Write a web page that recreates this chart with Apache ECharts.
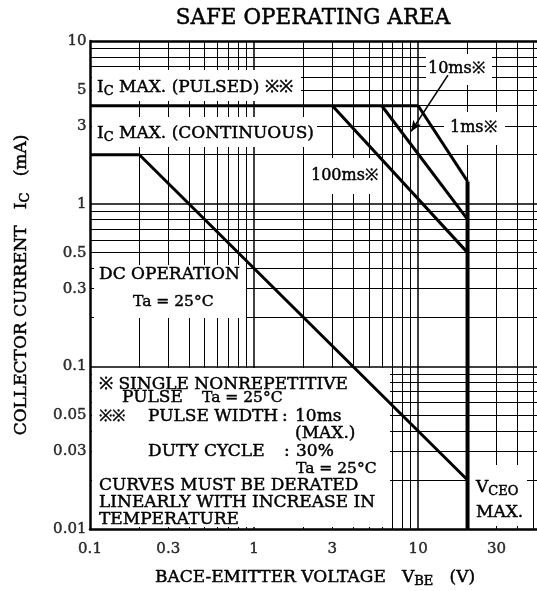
<!DOCTYPE html>
<html><head><meta charset="utf-8">
<script src="https://cdn.jsdelivr.net/npm/echarts@6/dist/echarts.min.js"></script>
<style>html,body{margin:0;padding:0;background:#fff}#c{width:537px;height:591px}</style>
</head><body><div id="c"></div>
<script>
// ---- data ----
const xTickLabels = [0.1, 0.3, 1, 3, 10, 30];
const yTickLabels = [0.01, 0.03, 0.05, 0.1, 0.3, 0.5, 1, 3, 5, 10];
const xGridValues = [0.2,0.3,0.4,0.5,0.6,0.7,0.8,0.9,1,2,3,4,5,6,7,8,9,10,20,30,40,50];
const yGridValues = [0.02,0.03,0.04,0.05,0.06,0.07,0.08,0.09,0.1,0.2,0.3,0.4,0.5,0.6,0.7,0.8,0.9,1,2,3,4,5,6,7,8,9];
const dcOperation = [[0.1, 2], [0.2, 2], [20, 0.02]];
const icMaxPulsed = [[0.1, 4], [10, 4]];
const pulse100ms = [[3, 4], [20, 0.5]];
const pulse10ms = [[6, 4], [20, 0.8]];
const pulse1ms = [[10, 4], [20, 1.37]];
const vceoMax = [[20, 1.37], [20, 0.01]];
const arrow10ms = [[15.2, 6.17], [9.06, 2.78]];

// ---- rendering ----
const F = '"DejaVu Serif", "Liberation Serif", serif';
const SW = 0.45; // stroke to thicken text like the printed original
const chart = echarts.init(document.getElementById('c'), null, {renderer: 'canvas'});

function T(x, y, text, size, extra) {
  return {type: 'text', x: x, y: y, z: 7, silent: true,
    style: Object.assign({text: text, fontFamily: F, fontSize: size || 16, fill: '#000',
      stroke: '#000', lineWidth: SW,
      align: 'left', verticalAlign: 'middle', textAlign: 'left', textVerticalAlign: 'middle'}, extra || {})};
}
function R(x, y, w, h) {
  return {type: 'rect', z: 3, silent: true, shape: {x: x, y: y, width: w, height: h}, style: {fill: '#fff'}};
}
function subRich(main, sub) {
  return {
    m: {fontFamily: F, fontSize: main, lineHeight: 21, fill: '#000', stroke: '#000', lineWidth: SW},
    s: {fontFamily: F, fontSize: sub, lineHeight: 21, verticalAlign: 'bottom', fill: '#000', stroke: '#000', lineWidth: SW}
  };
}

function curve(data, w) {
  return {type: 'line', data: data, symbol: 'none', z: 5, clip: false, silent: true,
    lineStyle: {color: '#000', width: w || 3}, animation: false};
}

const gridLines = [];
xGridValues.forEach(v => gridLines.push({xAxis: v, lineStyle: {width: (v === 1 || v === 10) ? 1.5 : 1}}));
yGridValues.forEach(v => gridLines.push({yAxis: v, lineStyle: {width: (v === 1 || v === 0.1) ? 1.5 : 1}}));
gridLines.push({yAxis: 10, lineStyle: {width: 2.5}});

const tickLabelStyle = {color: '#000', fontFamily: F, fontSize: 15, textBorderColor: '#000', textBorderWidth: SW};

const option = {
  animation: false,
  backgroundColor: '#fff',
  grid: {left: 90, right: 0, top: 41, bottom: 62, containLabel: false},
  xAxis: {type: 'log', logBase: 10, min: 0.1, max: 53, z: 10,
    axisLine: {show: true, onZero: false, lineStyle: {color: '#000', width: 2.5}},
    axisTick: {show: false}, axisLabel: {show: false}, splitLine: {show: false}},
  yAxis: {type: 'log', logBase: 10, min: 0.01, max: 10, z: 10,
    axisLine: {show: true, onZero: false, lineStyle: {color: '#000', width: 2.5}},
    axisTick: {show: false}, axisLabel: {show: false}, splitLine: {show: false}},
  series: [
    {type: 'line', data: [], z: 1, silent: true,
      markLine: {z: 1, silent: true, symbol: ['none', 'none'], animation: false,
        label: {show: false}, lineStyle: {color: '#000', type: 'solid', width: 1}, data: gridLines}},
    curve(dcOperation), curve(icMaxPulsed), curve(pulse100ms), curve(pulse10ms), curve(pulse1ms),
    Object.assign(curve(vceoMax, 4), {
      markLine: {z: 6, silent: true, symbol: ['none', 'arrow'], symbolSize: [7, 11], animation: false,
        label: {show: false}, lineStyle: {color: '#000', type: 'solid', width: 1.6},
        data: [[{coord: arrow10ms[0]}, {coord: arrow10ms[1]}]]}
    }),
    {type: 'scatter', clip: false, silent: true, z: 8, symbolSize: 1, itemStyle: {color: 'rgba(0,0,0,0)'},
      data: xTickLabels.map(v => [v, 0.01]),
      label: Object.assign({show: true, position: 'bottom', distance: 12,
        formatter: p => String(p.value[0])}, tickLabelStyle)},
    {type: 'scatter', clip: false, silent: true, z: 8, symbolSize: 1, itemStyle: {color: 'rgba(0,0,0,0)'},
      data: yTickLabels.map(v => [0.1, v]),
      label: Object.assign({show: true, position: 'left', distance: 3,
        formatter: p => String(p.value[1])}, tickLabelStyle)}
  ],
  graphic: {elements: [
    // white label backgrounds
    R(92, 70, 209, 31),
    R(92, 117, 225, 30),
    R(426, 54, 66, 31),
    R(444, 112, 61, 33),
    R(306, 158, 72, 36),
    R(94, 265, 152, 53),
    R(92, 368, 298, 159),
    R(468, 465, 59, 61),
    // title
    T(313, 18, 'SAFE OPERATING AREA', 21.5, {align: 'center', textAlign: 'center'}),
    // labels
    T(97, 88, '{m|I}{s|C}{m| MAX. (PULSED) ※※}', 17, {rich: subRich(17, 13)}),
    T(97, 134, '{m|I}{s|C}{m| MAX. (CONTINUOUS)}', 17, {rich: subRich(17, 13)}),
    T(428, 69, '10ms※', 16),
    T(450, 128, '1ms※', 16),
    T(311, 176, '100ms※', 16),
    T(99, 275, 'DC OPERATION', 17),
    T(133, 302, 'Ta = 25°C', 15.5),
    // notes
    T(99, 385, '※ SINGLE NONREPETITIVE', 17),
    T(122, 398, 'PULSE', 17),
    T(202, 398, 'Ta = 25°C', 15.5),
    T(99, 417, '※※', 16),
    T(148, 417, 'PULSE WIDTH', 17),
    T(282, 417, ':', 17),
    T(295, 417, '10ms', 17),
    T(295, 434, '(MAX.)', 17),
    T(148, 452, 'DUTY CYCLE', 17),
    T(284, 452, ':', 17),
    T(296, 452, '30%', 17),
    T(296, 469, 'Ta = 25°C', 15.5),
    T(99, 486, 'CURVES MUST BE DERATED', 17),
    T(99, 503, 'LINEARLY WITH INCREASE IN', 17),
    T(99, 520, 'TEMPERATURE', 17),
    // VCEO
    T(476, 488, '{m|V}{s|CEO}', 17, {rich: subRich(17, 13)}),
    T(476, 513, 'MAX.', 17),
    // axis titles
    T(315, 578, '{m|BACE-EMITTER VOLTAGE   V}{s|BE}{m|   (V)}', 17, {align: 'center', textAlign: 'center', rich: subRich(17, 13)}),
    Object.assign(T(22, 285, '{m|COLLECTOR CURRENT   I}{s|C}{m|   (mA)}', 17, {align: 'center', textAlign: 'center', rich: subRich(17, 13)}), {rotation: Math.PI / 2})
  ]}
};
chart.setOption(option);
</script></body></html>
